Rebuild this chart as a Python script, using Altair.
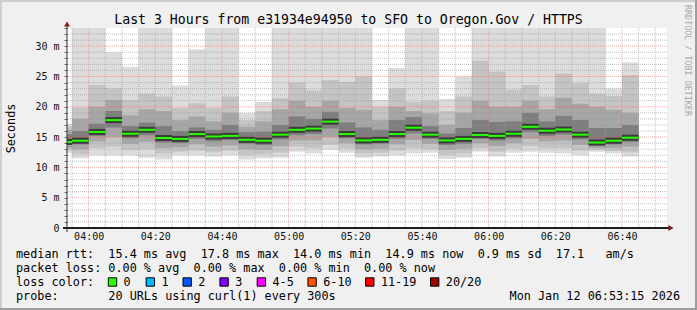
import altair as alt
import pandas as pd

# ---------------- data ----------------
# 5-minute bins, start time in minutes after midnight (03:50 ... 06:40)
bin_start = list(range(230, 405, 5))
median = [14.2, 14.4, 15.85, 17.8, 15.55, 16.2, 14.85, 14.7, 15.5, 15.1,
          15.2, 14.55, 14.4, 15.4, 16.2, 16.4, 17.55, 15.5, 14.45, 14.55,
          15.5, 16.55, 15.4, 14.45, 14.7, 15.35, 15.2, 15.55, 16.7, 16.05,
          16.25, 15.4, 14.1, 14.4, 14.9]
ping_max = [17.2, 33.5, 33.5, 29.0, 26.6, 33.5, 33.5, 23.5, 29.5, 33.5,
            33.5, 19.0, 20.8, 33.5, 33.5, 33.5, 33.5, 33.5, 33.5, 21.1,
            26.4, 33.5, 33.5, 21.3, 25.0, 33.5, 33.5, 33.5, 33.5, 33.5,
            33.5, 33.5, 33.5, 23.0, 27.3]
hi2 = [16.8, 19.9, 23.6, 23.0, 21.1, 22.2, 21.7, 19.8, 20.6, 19.8,
       21.7, 17.8, 19.3, 21.4, 24.0, 22.7, 24.4, 24.1, 25.0, 20.0,
       23.0, 20.8, 21.0, 19.3, 21.7, 27.6, 25.8, 22.8, 23.6, 21.7,
       25.5, 23.9, 22.2, 21.8, 25.2]
hi3 = [16.2, 18.0, 20.0, 21.1, 18.6, 19.6, 19.3, 17.8, 18.4, 17.6,
       19.0, 16.7, 17.6, 19.6, 21.0, 20.0, 21.0, 19.8, 19.5, 17.8,
       20.0, 19.3, 18.9, 17.0, 19.0, 21.0, 20.0, 20.0, 21.0, 19.6,
       21.5, 20.5, 20.0, 19.5, 19.0]
hi4 = [15.5, 16.0, 17.2, 19.3, 16.8, 17.4, 16.8, 16.0, 16.6, 16.2,
       17.0, 15.8, 15.9, 17.0, 18.4, 18.0, 19.2, 17.4, 16.6, 16.2,
       17.8, 18.3, 16.8, 15.6, 16.5, 17.8, 17.5, 17.6, 19.0, 17.6,
       18.5, 17.8, 16.5, 16.5, 17.0]
lo4 = [13.7, 13.8, 15.2, 16.6, 14.8, 15.3, 14.1, 14.0, 14.7, 14.3,
       14.5, 13.9, 13.7, 14.6, 15.3, 15.5, 16.4, 14.8, 13.8, 13.9,
       14.7, 15.6, 14.7, 13.7, 13.9, 14.7, 14.4, 14.8, 15.8, 15.2,
       15.4, 14.6, 13.6, 13.8, 14.2]
lo3 = [13.2, 13.0, 14.3, 15.0, 13.9, 14.2, 13.2, 13.3, 13.8, 13.4,
       13.6, 13.0, 12.9, 13.5, 14.4, 14.4, 15.0, 14.0, 13.0, 13.1,
       13.8, 14.5, 13.9, 12.9, 13.1, 14.0, 13.5, 14.0, 14.7, 14.3,
       14.4, 13.7, 13.2, 13.2, 13.4]
lo2 = [12.8, 12.2, 13.2, 13.4, 12.9, 13.0, 12.3, 12.6, 12.8, 12.5,
       12.8, 12.1, 12.2, 12.4, 13.4, 13.2, 13.7, 13.1, 12.3, 12.4,
       12.8, 13.2, 13.0, 12.1, 12.3, 13.2, 12.6, 13.1, 13.5, 13.2,
       13.2, 12.8, 12.9, 12.7, 12.5]
ping_min = [12.4, 11.5, 12.0, 12.0, 12.0, 11.6, 11.3, 12.0, 12.0, 11.8,
            12.0, 11.3, 11.5, 11.6, 12.6, 12.3, 12.9, 12.4, 11.6, 11.8,
            12.0, 12.3, 12.4, 11.4, 11.6, 12.6, 11.8, 12.4, 12.6, 12.4,
            12.3, 12.0, 12.6, 12.3, 11.8]

x_ticks = [240, 260, 280, 300, 320, 340, 360, 380, 400]
y_ticks = list(range(0, 34))
minor_x = [t for t in range(235, 415, 5) if t % 20 != 0]
major_x = x_ticks
minor_y = [v for v in range(1, 33) if v % 5 != 0]
major_y = [5, 10, 15, 20, 25, 30]

title_text = "Last 3 Hours from e31934e94950 to SFO to Oregon.Gov / HTTPS"
line1 = "median rtt:  15.4 ms avg  17.8 ms max  14.0 ms min  14.9 ms now  0.9 ms sd  17.1   am/s"
line2 = "packet loss: 0.00 % avg  0.00 % max  0.00 % min  0.00 % now"
line3 = "loss color:"
line4 = "probe:       20 URLs using curl(1) every 300s"
stamp = "Mon Jan 12 06:53:15 2026"
loss_labels = ["0", "1", "2", "3", "4-5", "6-10", "11-19", "20/20"]
loss_colors = ["#26ff00", "#00b8ff", "#0059ff", "#7e00ff", "#ff00ff",
               "#ff5500", "#ff0000", "#a10000"]
loss_box_x = [41, 78.8, 115.7, 152.6, 189.9, 240.6, 298.3, 363.2]

# ---------------- tables ----------------
rows = []
for band, (lo, hi) in enumerate([(ping_min, ping_max), (lo2, hi2), (lo3, hi3), (lo4, hi4)]):
    for i, t in enumerate(bin_start):
        rows.append({"t0": t, "t1": t + 5, "lo": lo[i], "hi": hi[i], "band": band})
smoke = pd.DataFrame(rows)
med_df = pd.DataFrame({"t0": bin_start, "t1": [t + 5 for t in bin_start], "med": median})
dummy = pd.DataFrame({"a": [0]})

FONT = "DejaVu Sans Mono"
xs = alt.Scale(domain=[233.5, 413.5], nice=False, zero=False)
ys = alt.Scale(domain=[0, 33], nice=False, zero=False)

x_axis = alt.Axis(values=x_ticks, grid=False, domain=False, ticks=False,
                  labelExpr="(floor(datum.value/60) < 10 ? '0' : '') + floor(datum.value/60) + ':' + (datum.value % 60 < 10 ? '0' : '') + (datum.value % 60)",
                  labelFont=FONT, labelFontSize=10, labelColor="#111111",
                  labelPadding=3, title=None, labelFlush=False)
y_axis = alt.Axis(values=y_ticks, grid=False, domain=False, ticks=True,
                  tickSize=3, tickColor="#666666", labelOverlap=False,
                  labelExpr="datum.value % 5 == 0 ? (datum.value == 0 ? '0' : datum.value + ' m') : ''",
                  labelFont=FONT, labelFontSize=10, labelColor="#111111",
                  labelPadding=5, title="Seconds", titleFont=FONT,
                  titleFontSize=11.8, titleFontWeight="normal", titleColor="#000000",
                  titleX=-57, titleY=100, titleAngle=270, titleAlign="center",
                  titleBaseline="middle", labelFlush=False)

band_colors = ["#dcdcdc", "#c4c4c4", "#a6a6a6", "#7e7e7e"]
layers = []
for b, c in enumerate(band_colors):
    layers.append(
        alt.Chart(smoke).transform_filter(alt.datum.band == b)
        .mark_rect(clip=True, color=c)
        .encode(x=alt.X("t0:Q", scale=xs, axis=x_axis), x2="t1:Q",
                y=alt.Y("lo:Q", scale=ys, axis=y_axis), y2="hi:Q")
    )

# grid (drawn over the smoke, as rrdtool does)
layers.append(alt.Chart(pd.DataFrame({"v": minor_x})).mark_rule(
    color="#8f8f8f", opacity=0.55, strokeDash=[1, 1], strokeWidth=1)
    .encode(x=alt.X("v:Q", scale=xs, axis=x_axis)))
layers.append(alt.Chart(pd.DataFrame({"v": minor_y})).mark_rule(
    color="#8f8f8f", opacity=0.55, strokeDash=[1, 1], strokeWidth=1)
    .encode(y=alt.Y("v:Q", scale=ys, axis=y_axis)))
layers.append(alt.Chart(pd.DataFrame({"v": major_x})).mark_rule(
    color="#de4f4f", opacity=0.45, strokeDash=[1, 1], strokeWidth=1)
    .encode(x=alt.X("v:Q", scale=xs, axis=x_axis)))
layers.append(alt.Chart(pd.DataFrame({"v": major_y})).mark_rule(
    color="#de4f4f", opacity=0.45, strokeDash=[1, 1], strokeWidth=1)
    .encode(y=alt.Y("v:Q", scale=ys, axis=y_axis)))

# median
layers.append(alt.Chart(med_df).mark_rule(clip=True, color="#3c3c3c", strokeWidth=6, strokeCap="butt")
              .encode(x=alt.X("t0:Q", scale=xs, axis=x_axis), x2="t1:Q",
                      y=alt.Y("med:Q", scale=ys, axis=y_axis)))
layers.append(alt.Chart(med_df).mark_rule(clip=True, color="#26ff00", strokeWidth=2, strokeCap="butt")
              .encode(x=alt.X("t0:Q", scale=xs, axis=x_axis), x2="t1:Q",
                      y=alt.Y("med:Q", scale=ys, axis=y_axis)))

# axis lines and arrows
layers.append(alt.Chart(dummy).mark_rule(color="#1f1f1f", strokeWidth=2)
              .encode(x=alt.value(-4), x2=alt.value(603), y=alt.value(200)))
layers.append(alt.Chart(dummy).mark_rule(color="#333333", strokeWidth=1)
              .encode(x=alt.value(0), y=alt.value(204), y2=alt.value(-3)))
layers.append(alt.Chart(dummy).mark_point(shape="triangle-right", filled=True, color="#801f1f", size=35, opacity=1)
              .encode(x=alt.value(604), y=alt.value(200)))
layers.append(alt.Chart(dummy).mark_point(shape="triangle-up", filled=True, color="#801f1f", size=35, opacity=1)
              .encode(x=alt.value(0), y=alt.value(-4)))

# title
layers.append(alt.Chart(dummy).mark_text(text=title_text, font=FONT, fontSize=13.2, color="#000000",
                                         align="center", baseline="alphabetic")
              .encode(x=alt.value(281.5), y=alt.value(-4)))
# watermark
layers.append(alt.Chart(dummy).mark_text(text="RRDTOOL / TOBI OETIKER", font=FONT, fontSize=8.4,
                                         color="#a8a8a8", align="left", baseline="middle", angle=90)
              .encode(x=alt.value(621), y=alt.value(-23)))

# legend text lines
NB = "\u00a0"
for txt, yy in [(line1, 226), (line2, 240), (line3, 254), (line4, 268)]:
    layers.append(alt.Chart(dummy).mark_text(text=txt.replace(" ", NB), font=FONT, fontSize=11.8,
                                             color="#000000", align="left", baseline="middle")
                  .encode(x=alt.value(-51), y=alt.value(yy)))
layers.append(alt.Chart(dummy).mark_text(text=stamp.replace(" ", NB), font=FONT, fontSize=11.8,
                                         color="#000000", align="right", baseline="middle")
              .encode(x=alt.value(613), y=alt.value(268)))
for lab, col, bx in zip(loss_labels, loss_colors, loss_box_x):
    layers.append(alt.Chart(dummy).mark_square(color=col, fill=col, stroke="#000000", strokeWidth=1,
                                               size=70, opacity=1, filled=True)
                  .encode(x=alt.value(bx + 4.5), y=alt.value(254)))
    layers.append(alt.Chart(dummy).mark_text(text=lab, font=FONT, fontSize=11.8, color="#000000",
                                             align="left", baseline="middle")
                  .encode(x=alt.value(bx + 15.6), y=alt.value(254)))

# 3D border
layers.append(alt.Chart(dummy).mark_rule(color="#cfcfcf", strokeWidth=2)
              .encode(x=alt.value(-67), x2=alt.value(630), y=alt.value(-27)))
layers.append(alt.Chart(dummy).mark_rule(color="#cfcfcf", strokeWidth=2)
              .encode(x=alt.value(-66), y=alt.value(-28), y2=alt.value(282)))
layers.append(alt.Chart(dummy).mark_rule(color="#9e9e9e", strokeWidth=2)
              .encode(x=alt.value(-67), x2=alt.value(630), y=alt.value(281)))
layers.append(alt.Chart(dummy).mark_rule(color="#9e9e9e", strokeWidth=2)
              .encode(x=alt.value(629), y=alt.value(-28), y2=alt.value(282)))

chart = alt.layer(*layers).properties(
    width=600, height=200,
    padding={"left": 67, "top": 28, "right": 30, "bottom": 82},
    autosize=alt.AutoSizeParams(type="none"),
    background="#f0f0f0",
).configure_view(fill="#ffffff", stroke=None)

chart.save("out.html", embed_options={"renderer": "svg", "actions": False})
